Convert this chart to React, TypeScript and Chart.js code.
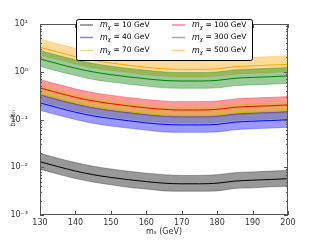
import React, { useEffect, useRef } from 'react';
import { Chart, registerables } from 'chart.js';

Chart.register(...registerables);

// ---- data ----
const MASS_S = [130, 135, 140, 145, 150, 155, 160, 165, 170, 175, 180, 185, 190, 195, 200];

const LINE_10 = [0.01305, 0.01035, 0.00833, 0.00698, 0.00612, 0.00549, 0.005, 0.00464, 0.0045, 0.0045, 0.00464, 0.00513, 0.00536, 0.00554, 0.00576];
const UP_10 = [0.0196, 0.0155, 0.0125, 0.0105, 0.0092, 0.0082, 0.0075, 0.007, 0.00675, 0.00675, 0.007, 0.0077, 0.008, 0.0083, 0.0086];
const LO_10 = [0.0091, 0.0072, 0.0058, 0.0049, 0.0043, 0.0038, 0.0035, 0.0032, 0.00315, 0.00315, 0.0032, 0.0036, 0.0037, 0.0039, 0.004];

const LINE_40 = [0.223, 0.177, 0.142, 0.119, 0.105, 0.094, 0.085, 0.079, 0.077, 0.077, 0.079, 0.088, 0.092, 0.095, 0.099];
const UP_40 = [0.335, 0.266, 0.213, 0.179, 0.157, 0.141, 0.128, 0.119, 0.116, 0.116, 0.119, 0.132, 0.138, 0.142, 0.148];
const LO_40 = [0.156, 0.124, 0.1, 0.083, 0.073, 0.066, 0.06, 0.055, 0.054, 0.054, 0.055, 0.061, 0.064, 0.066, 0.069];

const LINE_70 = [0.348, 0.276, 0.222, 0.186, 0.163, 0.146, 0.133, 0.124, 0.12, 0.12, 0.124, 0.137, 0.143, 0.148, 0.154];
const UP_70 = [0.522, 0.414, 0.333, 0.279, 0.245, 0.22, 0.2, 0.185, 0.18, 0.18, 0.185, 0.205, 0.214, 0.221, 0.23];
const LO_70 = [0.244, 0.193, 0.155, 0.13, 0.114, 0.102, 0.093, 0.087, 0.084, 0.084, 0.087, 0.096, 0.1, 0.103, 0.108];

const LINE_100 = [0.458, 0.363, 0.292, 0.245, 0.215, 0.193, 0.175, 0.163, 0.158, 0.158, 0.163, 0.18, 0.188, 0.194, 0.202];
const UP_100 = [0.687, 0.545, 0.438, 0.367, 0.322, 0.289, 0.263, 0.244, 0.237, 0.237, 0.244, 0.27, 0.282, 0.291, 0.303];
const LO_100 = [0.321, 0.254, 0.205, 0.171, 0.15, 0.135, 0.123, 0.114, 0.111, 0.111, 0.114, 0.126, 0.132, 0.136, 0.142];

const LINE_300 = [1.856, 1.472, 1.184, 0.992, 0.87, 0.781, 0.71, 0.659, 0.64, 0.64, 0.659, 0.73, 0.762, 0.787, 0.819];
const UP_300 = [2.78, 2.21, 1.78, 1.49, 1.31, 1.17, 1.07, 0.99, 0.96, 0.96, 0.99, 1.09, 1.14, 1.18, 1.23];
const LO_300 = [1.3, 1.03, 0.83, 0.69, 0.61, 0.55, 0.5, 0.46, 0.45, 0.45, 0.46, 0.51, 0.53, 0.55, 0.57];

const LINE_500 = [3.25, 2.58, 2.07, 1.74, 1.52, 1.37, 1.24, 1.15, 1.12, 1.12, 1.15, 1.28, 1.33, 1.38, 1.43];
const UP_500 = [4.87, 3.86, 3.11, 2.6, 2.28, 2.05, 1.86, 1.73, 1.68, 1.68, 1.73, 1.92, 2.0, 2.07, 2.15];
const LO_500 = [2.27, 1.8, 1.45, 1.22, 1.07, 0.96, 0.87, 0.81, 0.78, 0.78, 0.81, 0.89, 0.93, 0.97, 1.0];

const MX_LABELS = ['10', '40', '70', '100', '300', '500'];
const X_TICKS = [130, 140, 150, 160, 170, 180, 190, 200];
const X_TICK_LABELS = ['130', '140', '150', '160', '170', '180', '190', '200'];
const Y_TICKS = [0.001, 0.01, 0.1, 1, 10];
const Y_TICK_LABELS = ['10\u207B\u00B3', '10\u207B\u00B2', '10\u207B\u00B9', '10\u2070', '10\u00B9'];
const X_TITLE = 'm\u209B (GeV)';
const Y_TITLE = 'b\u209B/b\u2095';

// ---- styles ----
const LINE_COLORS = ['#000000', '#0000ff', '#bfbf00', '#ff0000', '#008000', '#ffa500'];
const RGB = ['0,0,0', '0,0,255', '191,191,0', '255,0,0', '0,128,0', '255,165,0'];

const SERIES = [
  { line: LINE_10, up: UP_10, lo: LO_10 },
  { line: LINE_40, up: UP_40, lo: LO_40 },
  { line: LINE_70, up: UP_70, lo: LO_70 },
  { line: LINE_100, up: UP_100, lo: LO_100 },
  { line: LINE_300, up: UP_300, lo: LO_300 },
  { line: LINE_500, up: UP_500, lo: LO_500 },
];

const FONT = 'DejaVu Sans';
const FRAME = '#555555';
const TEXT = '#333333';

const pts = (ys: number[]) => MASS_S.map((x, i) => ({ x, y: ys[i] }));

const framePlugin = {
  id: 'frameTicks',
  afterDatasetsDraw(chart: any) {
    const { ctx, chartArea, scales } = chart;
    const { left, right, top, bottom } = chartArea;
    const xs = scales.x;
    const ys = scales.y;
    ctx.save();
    ctx.strokeStyle = FRAME;
    ctx.lineWidth = 1;
    ctx.strokeRect(left + 0.5, top + 0.5, right - left - 1, bottom - top - 1);
    ctx.beginPath();
    X_TICKS.forEach((v) => {
      const px = Math.round(xs.getPixelForValue(v)) + 0.5;
      ctx.moveTo(px, bottom);
      ctx.lineTo(px, bottom - 4);
      ctx.moveTo(px, top);
      ctx.lineTo(px, top + 4);
    });
    Y_TICKS.forEach((v, i) => {
      const py = Math.round(ys.getPixelForValue(v)) + 0.5;
      ctx.moveTo(left, py);
      ctx.lineTo(left + 4, py);
      ctx.moveTo(right, py);
      ctx.lineTo(right - 4, py);
      if (i < Y_TICKS.length - 1) {
        for (let k = 2; k <= 9; k++) {
          const my = Math.round(ys.getPixelForValue(v * k)) + 0.5;
          ctx.moveTo(left, my);
          ctx.lineTo(left + 2, my);
          ctx.moveTo(right, my);
          ctx.lineTo(right - 2, my);
        }
      }
    });
    ctx.stroke();

    // x tick labels
    ctx.fillStyle = TEXT;
    ctx.textAlign = 'center';
    ctx.textBaseline = 'middle';
    ctx.font = `8px ${FONT}`;
    X_TICKS.forEach((v, i) => {
      ctx.fillText(X_TICK_LABELS[i], xs.getPixelForValue(v), bottom + 8);
    });

    // axis titles
    ctx.fillText(X_TITLE, (left + right) / 2, bottom + 17);
    ctx.save();
    ctx.translate(13, (top + bottom) / 2 - 1);
    ctx.rotate(-Math.PI / 2);
    ctx.font = `7px ${FONT}`;
    ctx.fillText(Y_TITLE, 0, 0);
    ctx.restore();
    ctx.restore();
  },
};

const legendPlugin = {
  id: 'boxLegend',
  afterDraw(chart: any) {
    const { ctx } = chart;
    const bx = 76, by = 19, bw = 176, bh = 41;
    ctx.save();
    ctx.fillStyle = '#ffffff';
    ctx.strokeStyle = '#000000';
    ctx.lineWidth = 1;
    ctx.beginPath();
    if (ctx.roundRect) ctx.roundRect(bx + 0.5, by + 0.5, bw, bh, 2);
    else ctx.rect(bx + 0.5, by + 0.5, bw, bh);
    ctx.fill();
    ctx.stroke();
    const colX = [80, 172];
    const rowY = [25, 37.5, 50.5];
    MX_LABELS.forEach((lab, i) => {
      const c = Math.floor(i / 3);
      const r = i % 3;
      const lx = colX[c];
      const ly = rowY[r];
      ctx.strokeStyle = `rgba(${RGB[i]},0.5)`;
      ctx.lineWidth = 1.5;
      ctx.beginPath();
      ctx.moveTo(lx, ly);
      ctx.lineTo(lx + 13, ly);
      ctx.stroke();
      let tx = lx + 20;
      ctx.fillStyle = '#000000';
      ctx.textBaseline = 'middle';
      ctx.textAlign = 'left';
      ctx.font = `italic 8px ${FONT}`;
      ctx.fillText('m', tx, ly);
      tx += ctx.measureText('m').width;
      ctx.font = `italic 5.5px ${FONT}`;
      ctx.fillText('\u03C7', tx, ly + 2.5);
      tx += ctx.measureText('\u03C7').width;
      ctx.font = `7.5px ${FONT}`;
      ctx.fillText(` = ${lab} GeV`, tx, ly);
    });
    ctx.restore();
  },
};

export default function App() {
  const ref = useRef<HTMLCanvasElement | null>(null);
  useEffect(() => {
    if (!ref.current) return;
    const datasets: any[] = [];
    SERIES.forEach((s, i) => {
      const band = `rgba(${RGB[i]},0.4)`;
      datasets.push({
        label: `up ${MX_LABELS[i]}`,
        data: pts(s.up),
        borderColor: band,
        borderWidth: 0.8,
        backgroundColor: band,
        fill: '+1',
        pointRadius: 0,
        cubicInterpolationMode: 'monotone',
        order: 1,
      });
      datasets.push({
        label: `lo ${MX_LABELS[i]}`,
        data: pts(s.lo),
        borderColor: band,
        borderWidth: 0.8,
        backgroundColor: band,
        fill: false,
        pointRadius: 0,
        cubicInterpolationMode: 'monotone',
        order: 1,
      });
    });
    SERIES.forEach((s, i) => {
      datasets.push({
        label: `m = ${MX_LABELS[i]} GeV`,
        data: pts(s.line),
        borderColor: LINE_COLORS[i],
        borderWidth: 1,
        fill: false,
        pointRadius: 0,
        cubicInterpolationMode: 'monotone',
        order: 0,
      });
    });
    const chart = new Chart(ref.current, {
      type: 'line',
      data: { datasets },
      plugins: [framePlugin, legendPlugin],
      options: {
        responsive: false,
        animation: false,
        devicePixelRatio: 1,
        layout: { padding: { top: 24, right: 32, bottom: 0, left: 0 } },
        plugins: { legend: { display: false }, tooltip: { enabled: false } },
        scales: {
          x: {
            type: 'linear',
            min: 130,
            max: 200,
            grid: { display: false },
            border: { display: false },
            afterBuildTicks: (sc: any) => {
              sc.ticks = X_TICKS.map((v) => ({ value: v }));
            },
            afterFit: (sc: any) => {
              sc.height = 25;
            },
            ticks: { display: false },
          },
          y: {
            type: 'logarithmic',
            min: 0.001,
            max: 10,
            grid: { display: false },
            border: { display: false },
            afterBuildTicks: (sc: any) => {
              sc.ticks = Y_TICKS.map((v) => ({ value: v }));
            },
            afterFit: (sc: any) => {
              sc.width = 40;
            },
            ticks: {
              padding: 4,
              color: TEXT,
              font: { family: FONT, size: 8 },
              callback: (_v: any, i: number) => Y_TICK_LABELS[i],
            },
          },
        },
      },
    });
    return () => chart.destroy();
  }, []);
  return (
    <div style={{ position: 'absolute', left: 0, top: 0, width: 320, height: 240, background: '#ffffff' }}>
      <canvas ref={ref} width={320} height={240} />
    </div>
  );
}
